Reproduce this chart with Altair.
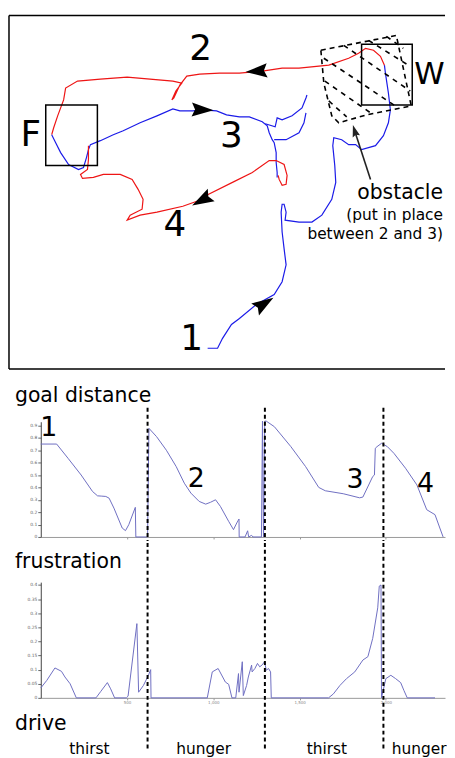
import altair as alt
import pandas as pd

FONT = "DejaVu Sans"

# ---------------- map panel data (arena coordinates) ----------------
blue1_x = [208, 218, 223, 232, 240, 257, 275, 283, 287, 285, 283, 282, 283, 285, 287, 286, 300, 313, 323, 333,
           337, 336, 334, 335, 343, 350, 357, 363, 377, 385, 390, 392, 390, 387, 386]
blue1_y = [347, 347, 337, 323, 317, 303, 293, 280, 263, 247, 230, 210, 202, 202, 210, 218, 220, 220, 213, 197,
           180, 163, 143, 135, 137, 142, 142, 147, 143, 133, 120, 107, 90, 70, 62]

red2_x = [386, 382, 375, 367, 360, 350, 330, 300, 283, 263, 240, 220, 200, 187, 180, 174, 172, 176, 182, 173,
          150, 127, 100, 77, 65, 63, 60, 57, 53, 51]
red2_y = [62, 53, 47, 45, 50, 55, 62, 65, 65, 68, 70, 70, 71, 73, 82, 95, 97, 88, 80, 78,
          76, 74, 76, 78, 85, 97, 105, 113, 125, 132]

blue3_x = [51, 55, 60, 68, 78, 83, 86, 88, 90, 100, 113, 118, 123, 140, 157, 173, 180, 193, 203, 217,
           227, 240, 250, 263, 268, 270, 273, 275, 277, 277, 278, 278]
blue3_y = [132, 140, 150, 162, 167, 165, 155, 147, 142, 138, 132, 130, 128, 120, 113, 106, 108, 108, 107, 108,
           112, 114, 114, 119, 123, 130, 137, 140, 150, 160, 170, 175]

blue3b_x = [266, 276, 278, 283, 293, 303, 307, 308]
blue3b_y = [121, 124, 115, 117, 113, 105, 95, 92]

blue3c_x = [275, 287, 300, 305, 307]
blue3c_y = [137, 137, 130, 120, 110]

red4_x = [279, 280, 283, 287, 288, 285, 277, 270, 253, 233, 207, 200, 183, 157, 140, 127, 130, 142, 143, 138,
          132, 120, 103, 93, 82, 80, 87, 88, 88]
red4_y = [173, 177, 183, 182, 173, 162, 158, 158, 170, 180, 193, 198, 204, 210, 213, 218, 213, 207, 197, 187,
          177, 172, 172, 175, 176, 172, 167, 157, 143]

obst_x = [322, 398, 413, 368, 340, 333, 325, 322]
obst_y = [47, 32, 103, 112, 120, 113, 80, 47]

hatch_x1 = [325, 345, 370, 326, 330, 388]
hatch_y1 = [55, 42, 37, 78, 98, 33]
hatch_x2 = [400, 412, 410, 372, 348, 405]
hatch_y2 = [105, 88, 62, 110, 114, 45]

box_names = ["F", "W"]
box_x1 = [45, 363]
box_y1 = [102, 41]
box_x2 = [97, 414]
box_y2 = [163, 102]

arrow_x = [257, 203, 202, 265]
arrow_y = [68, 107, 198, 302]
arrow_angle = [266, 92, 241, 57]

map_labels = ["2", "3", "4", "1", "F"]
map_label_x = [201, 232, 175, 192, 30]
map_label_y = [46, 133, 223, 338, 132]

obstacle_lines = ["obstacle", "(put in place", "between 2 and 3)"]
obstacle_y = [197, 218, 237]
obstacle_size = [20.5, 15.5, 15.5]

# ---------------- time series data ----------------
goal_t = [0, 92, 158, 234, 300, 329, 350, 377, 396, 424, 472, 491, 510, 548, 551, 614, 619, 627, 671, 728,
          785, 832, 870, 918, 956, 984, 1013, 1041, 1089, 1117, 1136, 1149, 1150, 1184, 1199, 1205, 1222, 1230,
          1279, 1285, 1291, 1298, 1307, 1354, 1449, 1535, 1611, 1649, 1753, 1848, 1867, 1924, 1934, 1939, 1949,
          1975, 2009, 2047, 2114, 2180, 2237, 2285, 2313, 2332]
goal_v = [0.75, 0.75, 0.635, 0.50, 0.367, 0.332, 0.33, 0.327, 0.313, 0.233, 0.072, 0.051, 0.099, 0.239, 0, 0,
          0, 0.877, 0.81, 0.70, 0.568, 0.434, 0.354, 0.287, 0.265, 0.28, 0.30, 0.247, 0.126, 0.059, 0.113,
          0.145, 0, 0, 0.05, 0, 0.013, 0, 0, 0.935, 0, 0.935, 0.935, 0.89, 0.73, 0.568, 0.40, 0.373, 0.349,
          0.316, 0.322, 0.488, 0.50, 0.716, 0.729, 0.756, 0.729, 0.675, 0.555, 0.42, 0.22, 0.18, 0.072, 0]

frus_t = [0, 35, 82, 120, 140, 170, 206, 320, 348, 386, 405, 428, 496, 506, 557, 567, 595, 624, 637, 639,
          965, 994, 1028, 1070, 1089, 1108, 1130, 1146, 1149, 1168, 1174, 1193, 1203, 1222, 1225, 1241, 1256,
          1269, 1282, 1297, 1307, 1320, 1332, 1336, 1668, 1696, 1734, 1772, 1820, 1867, 1896, 1924, 1953,
          1962, 1972, 1975, 2000, 2029, 2057, 2086, 2105, 2124, 2285]
frus_v = [0.035, 0.062, 0.106, 0.094, 0.074, 0.05, 0, 0, 0.023, 0.054, 0.032, 0, 0, 0.006, 0.263, 0.02, 0.044,
          0.08, 0.10, 0, 0, 0.092, 0.104, 0.056, 0.048, 0, 0, 0.086, 0.02, 0.128, 0.008, 0.044, 0.074, 0.116,
          0.092, 0.104, 0.122, 0.11, 0.116, 0.128, 0.098, 0.104, 0.092, 0, 0, 0.014, 0.044, 0.068, 0.092,
          0.134, 0.146, 0.211, 0.319, 0.396, 0.40, 0, 0.068, 0.08, 0.068, 0.054, 0.026, 0, 0]

switch_t = [619, 1299, 1986]

goal_digits = ["1", "2", "3", "4"]
goal_digit_t = [46, 902, 1822, 2230]
goal_digit_v = [0.876, 0.466, 0.458, 0.426]

drive_labels = ["thirst", "hunger", "thirst", "hunger"]
drive_t = [282, 944, 1658, 2193]

goal_ticks = [round(0.1 * i, 1) for i in range(10)]
frus_ticks = [round(0.05 * i, 2) for i in range(9)]
time_ticks = [500, 1000, 1500, 2000]

# ---------------- map panel ----------------
def path_df(name, xs, ys, color):
    return pd.DataFrame({"path": name, "order": list(range(len(xs))), "x": xs, "y": ys, "color": color})

RED = "#ee1515"
BLUE = "#1b1be8"
paths = pd.concat([
    path_df("b1", blue1_x, blue1_y, BLUE),
    path_df("r2", red2_x, red2_y, RED),
    path_df("b3", blue3_x, blue3_y, BLUE),
    path_df("b3b", blue3b_x, blue3b_y, BLUE),
    path_df("b3c", blue3c_x, blue3c_y, BLUE),
    path_df("r4", red4_x, red4_y, RED),
])

MW, MH = 439, 356
mx = alt.Scale(domain=[8, 8 + MW], range=[0, MW], nice=False, zero=False)
my = alt.Scale(domain=[12, 12 + MH], range=[0, MH], nice=False, zero=False)
MX = alt.X("x:Q", scale=mx, axis=None)
MY = alt.Y("y:Q", scale=my, axis=None)

one = pd.DataFrame({"k": [0]})
frame_top = alt.Chart(one).mark_rule(color="black", strokeWidth=1.5).encode(
    x=alt.value(0), x2=alt.value(MW), y=alt.value(0))
frame_bottom = alt.Chart(one).mark_rule(color="black", strokeWidth=1.5).encode(
    x=alt.value(0), x2=alt.value(MW), y=alt.value(MH))
frame_left = alt.Chart(one).mark_rule(color="black", strokeWidth=1.5).encode(
    x=alt.value(0), y=alt.value(0), y2=alt.value(MH))

path_layer = alt.Chart(paths).mark_line(strokeWidth=1.2).encode(
    x=MX, y=MY, detail="path:N", order="order:Q",
    color=alt.Color("color:N", scale=None))

obst_df = pd.DataFrame({"order": list(range(len(obst_x))), "x": obst_x, "y": obst_y})
obst_layer = alt.Chart(obst_df).mark_line(color="black", strokeWidth=1.6, strokeDash=[5, 4]).encode(
    x=MX, y=MY, order="order:Q")

hatch_df = pd.DataFrame({"x": hatch_x1, "y": hatch_y1, "x2": hatch_x2, "y2": hatch_y2})
hatch_layer = alt.Chart(hatch_df).mark_rule(color="black", strokeWidth=1.6, strokeDash=[5, 5]).encode(
    x=MX, y=MY, x2="x2:Q", y2="y2:Q")

box_df = pd.DataFrame({"name": box_names, "x": box_x1, "y": box_y1, "x2": box_x2, "y2": box_y2})
box_layer = alt.Chart(box_df).mark_rect(filled=False, stroke="black", strokeWidth=1.5).encode(
    x=MX, y=MY, x2="x2:Q", y2="y2:Q")

ARROW = "M0,-1L0.65,1L0,0.7L-0.65,1Z"
arrow_df = pd.DataFrame({"x": arrow_x, "y": arrow_y, "angle": arrow_angle})
arrow_layer = alt.Chart(arrow_df).mark_point(shape=ARROW, filled=True, color="black", opacity=1, size=480).encode(
    x=MX, y=MY, angle=alt.Angle("angle:Q", scale=None))

pointer_df = pd.DataFrame({"x": [372], "y": [177], "x2": [357], "y2": [131]})
pointer_layer = alt.Chart(pointer_df).mark_rule(color="#222", strokeWidth=1.6).encode(
    x=MX, y=MY, x2="x2:Q", y2="y2:Q")
pointer_head = alt.Chart(pd.DataFrame({"x": [356], "y": [128], "angle": [343]})).mark_point(
    shape=ARROW, filled=True, color="#222", opacity=1, size=140).encode(
    x=MX, y=MY, angle=alt.Angle("angle:Q", scale=None))

lab_df = pd.DataFrame({"t": map_labels, "x": map_label_x, "y": map_label_y})
lab_layer = alt.Chart(lab_df).mark_text(font=FONT, fontSize=36, color="black", baseline="middle",
                                        align="center").encode(x=MX, y=MY, text="t:N")
w_layer = alt.Chart(pd.DataFrame({"t": ["W"], "x": [416], "y": [72]})).mark_text(
    font=FONT, fontSize=31, color="black", baseline="middle", align="left").encode(
    x=MX, y=MY, text="t:N")

obs_df = pd.DataFrame({"t": obstacle_lines, "x": [445, 445, 445], "y": obstacle_y, "s": obstacle_size})
obs_layer = alt.Chart(obs_df).mark_text(font=FONT, color="black", baseline="alphabetic", align="right").encode(
    x=MX, y=MY, text="t:N", size=alt.Size("s:Q", scale=None))

map_chart = alt.layer(frame_top, frame_bottom, frame_left, path_layer, obst_layer, hatch_layer, box_layer,
                      arrow_layer, pointer_layer, pointer_head, lab_layer, w_layer, obs_layer).properties(
    width=MW, height=MH)

# ---------------- goal distance panel ----------------
PW = 439
LINE = "#6f6fc2"
xs_t = alt.Scale(domain=[0, 2343], range=[32, 439], nice=False, zero=False)

GH = 172
goal_xaxis = alt.Axis(values=time_ticks, labels=False, tickSize=2, domainColor="#999", tickColor="#999",
                      title=None, grid=False, offset=-4, orient="bottom")
goal_yaxis = alt.Axis(values=goal_ticks, format="~g", labelFontSize=4.5, labelColor="#666", tickSize=3,
                      tickColor="#666", domainColor="#444", title=None, grid=False, orient="left",
                      offset=-32, labelPadding=1)
GX = alt.X("t:Q", scale=xs_t, axis=goal_xaxis)
GY = alt.Y("v:Q", scale=alt.Scale(domain=[0, 0.93], range=[168, 52], nice=False, zero=False), axis=goal_yaxis)

goal_df = pd.DataFrame({"t": goal_t, "v": goal_v})
goal_line = alt.Chart(goal_df).mark_line(color=LINE, strokeWidth=1, clip=False).encode(x=GX, y=GY)

switch_df = pd.DataFrame({"t": switch_t})
goal_rules = alt.Chart(switch_df).mark_rule(color="black", strokeWidth=2, strokeDash=[4, 3]).encode(
    x=GX, y=alt.value(38), y2=alt.value(GH))

gd_df = pd.DataFrame({"lab": goal_digits, "t": goal_digit_t, "v": goal_digit_v})
goal_digits_layer = alt.Chart(gd_df).mark_text(font=FONT, fontSize=27, color="black",
                                               baseline="middle", align="center").encode(
    x=GX, y=GY, text="lab:N")

goal_title = alt.Chart(pd.DataFrame({"lab": ["goal distance"]})).mark_text(
    font=FONT, fontSize=20.5, color="black", align="left", baseline="alphabetic").encode(
    x=alt.value(6), y=alt.value(32), text="lab:N")

goal_chart = alt.layer(goal_line, goal_rules, goal_digits_layer, goal_title).properties(width=PW, height=GH)

# ---------------- frustration / drive panel ----------------
FH = 218
frus_xaxis = alt.Axis(values=time_ticks, labelFontSize=4, labelColor="#888", tickSize=2, domainColor="#999",
                      tickColor="#999", title=None, grid=False, offset=-(FH - 156), orient="bottom",
                      labelPadding=1)
frus_yaxis = alt.Axis(values=frus_ticks, format="~g", labelFontSize=4.5, labelColor="#666", tickSize=3,
                      tickColor="#666", domainColor="#444", title=None, grid=False, orient="left",
                      offset=-32, labelPadding=1)
FX = alt.X("t:Q", scale=xs_t, axis=frus_xaxis)
FY = alt.Y("v:Q", scale=alt.Scale(domain=[0, 0.41], range=[156, 39.5], nice=False, zero=False), axis=frus_yaxis)

frus_df = pd.DataFrame({"t": frus_t, "v": frus_v})
frus_line = alt.Chart(frus_df).mark_line(color=LINE, strokeWidth=1).encode(x=FX, y=FY)
frus_rules = alt.Chart(switch_df).mark_rule(color="black", strokeWidth=2, strokeDash=[4, 3]).encode(
    x=FX, y=alt.value(0), y2=alt.value(208))

frus_title = alt.Chart(pd.DataFrame({"lab": ["frustration", "drive"], "yy": [25, 188]})).mark_text(
    font=FONT, fontSize=20.5, color="black", align="left", baseline="alphabetic").encode(
    x=alt.value(6), y=alt.Y("yy:Q", scale=None), text="lab:N")

drive_df = pd.DataFrame({"lab": drive_labels, "t": drive_t})
drive_layer = alt.Chart(drive_df).mark_text(font=FONT, fontSize=15.5, color="black", align="center",
                                            baseline="alphabetic").encode(
    x=FX, y=alt.value(213), text="lab:N")

frus_chart = alt.layer(frus_line, frus_rules, frus_title, drive_layer).properties(width=PW, height=FH)

chart = alt.vconcat(map_chart, goal_chart, frus_chart, spacing=0).resolve_scale(
    x="independent", y="independent").properties(
    padding={"left": 0, "top": 4, "right": 0, "bottom": 0}).configure(font=FONT).configure_view(
    stroke="transparent", strokeWidth=0)

chart.save("out.html", embed_options={"renderer": "svg", "actions": False})
